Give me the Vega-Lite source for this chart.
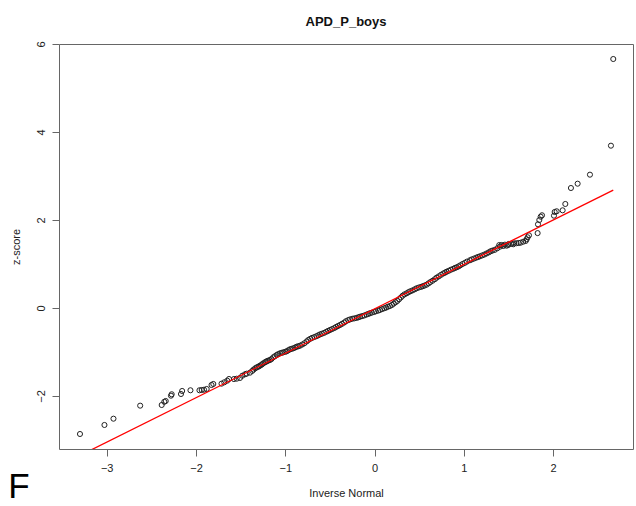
{
  "$schema": "https://vega.github.io/schema/vega-lite/v6.json",
  "width": 574,
  "height": 405,
  "autosize": {"type": "none"},
  "padding": {"left": 59, "top": 44, "right": 3, "bottom": 57},
  "background": "white",
  "title": {"text": "APD_P_boys", "font": "Liberation Sans", "fontSize": 13, "fontWeight": "bold", "color": "#111", "anchor": "middle", "offset": 12},
  "config": {
    "view": {"stroke": "#666", "strokeWidth": 1},
    "axis": {"domain": false, "grid": false, "tickSize": 7, "tickColor": "#666", "labelFont": "Liberation Sans", "labelFontSize": 11, "labelColor": "#222", "titleFont": "Liberation Sans", "titleFontSize": 11, "titleFontWeight": "normal", "titleColor": "#222", "format": "~g"}
  },
  "datasets": {
    "points": [
      {"x":-3.299,"y":-2.864},{"x":-3.025,"y":-2.659},{"x":-2.924,"y":-2.516},{"x":-2.625,"y":-2.220},{"x":-2.384,"y":-2.205},{"x":-2.355,"y":-2.132},{"x":-2.339,"y":-2.114},{"x":-2.280,"y":-1.993},{"x":-2.272,"y":-1.961},{"x":-2.168,"y":-1.955},{"x":-2.155,"y":-1.886},{"x":-2.062,"y":-1.870},{"x":-1.961,"y":-1.870},{"x":-1.936,"y":-1.864},{"x":-1.910,"y":-1.857},{"x":-1.880,"y":-1.841},{"x":-1.826,"y":-1.750},{"x":-1.806,"y":-1.727},{"x":-1.714,"y":-1.720},{"x":-1.683,"y":-1.689},{"x":-1.650,"y":-1.652},{"x":-1.630,"y":-1.614},{"x":-1.575,"y":-1.615},{"x":-1.544,"y":-1.607},{"x":-1.507,"y":-1.590},{"x":-1.481,"y":-1.539},{"x":-1.451,"y":-1.507},{"x":-1.432,"y":-1.493},{"x":-1.395,"y":-1.470},
      {"x":-1.370,"y":-1.430},{"x":-1.355,"y":-1.400},{"x":-1.336,"y":-1.370},{"x":-1.320,"y":-1.350},{"x":-1.302,"y":-1.334},{"x":-1.290,"y":-1.320},{"x":-1.275,"y":-1.302},{"x":-1.260,"y":-1.280},{"x":-1.246,"y":-1.257},{"x":-1.227,"y":-1.234},{"x":-1.215,"y":-1.220},{"x":-1.202,"y":-1.205},{"x":-1.190,"y":-1.195},{"x":-1.171,"y":-1.182},{"x":-1.155,"y":-1.160},{"x":-1.134,"y":-1.120},{"x":-1.115,"y":-1.095},{"x":-1.096,"y":-1.068},{"x":-1.080,"y":-1.050},{"x":-1.059,"y":-1.030},{"x":-1.040,"y":-1.020},{"x":-1.022,"y":-1.007},{"x":-1.000,"y":-0.995},{"x":-0.984,"y":-0.984},{"x":-0.965,"y":-0.960},{"x":-0.947,"y":-0.939},{"x":-0.930,"y":-0.930},{"x":-0.910,"y":-0.916},{"x":-0.890,"y":-0.898},{"x":-0.872,"y":-0.880},{"x":-0.855,"y":-0.870},{"x":-0.835,"y":-0.857},
      {"x":-0.810,"y":-0.830},{"x":-0.785,"y":-0.800},{"x":-0.760,"y":-0.760},{"x":-0.742,"y":-0.727},{"x":-0.720,"y":-0.700},{"x":-0.700,"y":-0.680},{"x":-0.675,"y":-0.660},{"x":-0.650,"y":-0.640},{"x":-0.630,"y":-0.620},{"x":-0.611,"y":-0.600},{"x":-0.590,"y":-0.585},{"x":-0.565,"y":-0.565},{"x":-0.540,"y":-0.540},{"x":-0.520,"y":-0.520},{"x":-0.499,"y":-0.500},{"x":-0.475,"y":-0.478},{"x":-0.450,"y":-0.455},{"x":-0.430,"y":-0.430},{"x":-0.410,"y":-0.410},{"x":-0.387,"y":-0.386},{"x":-0.365,"y":-0.360},{"x":-0.340,"y":-0.330},{"x":-0.320,"y":-0.300},{"x":-0.295,"y":-0.275},{"x":-0.275,"y":-0.260},{"x":-0.250,"y":-0.245},{"x":-0.225,"y":-0.235},{"x":-0.200,"y":-0.225},{"x":-0.180,"y":-0.210},{"x":-0.163,"y":-0.198},{"x":-0.140,"y":-0.185},{"x":-0.115,"y":-0.170},{"x":-0.090,"y":-0.150},{"x":-0.070,"y":-0.135},{"x":-0.052,"y":-0.120},{"x":-0.030,"y":-0.105},{"x":-0.005,"y":-0.090},{"x":0.015,"y":-0.075},{"x":0.040,"y":-0.060},{"x":0.060,"y":-0.045},{"x":0.085,"y":-0.025},{"x":0.110,"y":-0.005},{"x":0.130,"y":0.010},{"x":0.150,"y":0.030},{"x":0.172,"y":0.045},{"x":0.195,"y":0.070},{"x":0.215,"y":0.100},{"x":0.235,"y":0.130},{"x":0.255,"y":0.160},{"x":0.275,"y":0.200},{"x":0.295,"y":0.240},{"x":0.315,"y":0.280},{"x":0.335,"y":0.310},{"x":0.359,"y":0.334},{"x":0.380,"y":0.360},{"x":0.400,"y":0.380},{"x":0.425,"y":0.400},{"x":0.450,"y":0.425},{"x":0.471,"y":0.448},{"x":0.495,"y":0.465},{"x":0.520,"y":0.480},{"x":0.540,"y":0.495},{"x":0.560,"y":0.510},{"x":0.583,"y":0.530},{"x":0.605,"y":0.560},{"x":0.625,"y":0.590},{"x":0.650,"y":0.620},{"x":0.675,"y":0.655},{"x":0.695,"y":0.690},{"x":0.720,"y":0.720},{"x":0.745,"y":0.755},{"x":0.770,"y":0.785},{"x":0.790,"y":0.805},{"x":0.807,"y":0.825},{"x":0.830,"y":0.845},{"x":0.855,"y":0.870},{"x":0.880,"y":0.890},{"x":0.900,"y":0.910},{"x":0.919,"y":0.925},{"x":0.940,"y":0.945},{"x":0.960,"y":0.970},{"x":0.985,"y":1.000},{"x":1.010,"y":1.025},{"x":1.035,"y":1.055},{"x":1.068,"y":1.085},{"x":1.090,"y":1.105},{"x":1.115,"y":1.125},{"x":1.140,"y":1.145},{"x":1.160,"y":1.160},{"x":1.180,"y":1.175},{"x":1.205,"y":1.195},{"x":1.230,"y":1.215},{"x":1.255,"y":1.240},{"x":1.280,"y":1.265},{"x":1.300,"y":1.290},{"x":1.320,"y":1.305},{"x":1.345,"y":1.320},{"x":1.374,"y":1.357},
      {"x":1.396,"y":1.430},{"x":1.404,"y":1.393},{"x":1.423,"y":1.432},{"x":1.441,"y":1.409},{"x":1.460,"y":1.439},{"x":1.479,"y":1.416},{"x":1.497,"y":1.432},{"x":1.502,"y":1.455},{"x":1.530,"y":1.460},{"x":1.553,"y":1.448},{"x":1.564,"y":1.470},{"x":1.590,"y":1.472},{"x":1.614,"y":1.477},{"x":1.636,"y":1.484},{"x":1.665,"y":1.507},{"x":1.692,"y":1.523},{"x":1.703,"y":1.561},{"x":1.714,"y":1.607},{"x":1.729,"y":1.652},{"x":1.826,"y":1.702},{"x":1.830,"y":1.902},{"x":1.845,"y":2.000},{"x":1.860,"y":2.075},{"x":1.875,"y":2.107},{"x":2.009,"y":2.098},{"x":2.017,"y":2.182},{"x":2.039,"y":2.198},{"x":2.106,"y":2.220},{"x":2.136,"y":2.364},{"x":2.199,"y":2.727},{"x":2.274,"y":2.825},{"x":2.412,"y":3.030},{"x":2.647,"y":3.689},{"x":2.673,"y":5.659}
    ],
    "fit": [{"x": -3.30, "y": -3.353}, {"x": 2.673, "y": 2.680}],
    "panel": [{"label": "F"}]
  },
  "layer": [
    {
      "data": {"name": "points"},
      "mark": {"type": "point", "shape": "circle", "filled": false, "size": 26, "stroke": "#222", "strokeWidth": 1, "opacity": 1},
      "encoding": {
        "x": {"field": "x", "type": "quantitative", "scale": {"domain": [-3.534, 2.894], "nice": false, "zero": false},
              "axis": {"values": [-3, -2, -1, 0, 1, 2], "format": "~g", "title": "Inverse Normal", "labelPadding": 6, "titlePadding": 14}},
        "y": {"field": "y", "type": "quantitative", "scale": {"domain": [-3.205, 6.0], "nice": false, "zero": false},
              "axis": {"values": [-2, 0, 2, 4, 6], "format": "~g", "title": "z-score", "labelAngle": 270, "labelAlign": "center", "labelBaseline": "bottom", "labelPadding": 6, "titlePadding": 14}}
      }
    },
    {
      "data": {"name": "fit"},
      "mark": {"type": "line", "color": "#ff0000", "strokeWidth": 1.3, "clip": true},
      "encoding": {
        "x": {"field": "x", "type": "quantitative"},
        "y": {"field": "y", "type": "quantitative"}
      }
    },
    {
      "data": {"name": "panel"},
      "mark": {"type": "text", "font": "Liberation Sans", "fontSize": 35, "align": "center", "baseline": "bottom", "color": "#000"},
      "encoding": {
        "x": {"datum": -3.982},
        "y": {"datum": -4.48},
        "text": {"field": "label"}
      }
    }
  ]
}
